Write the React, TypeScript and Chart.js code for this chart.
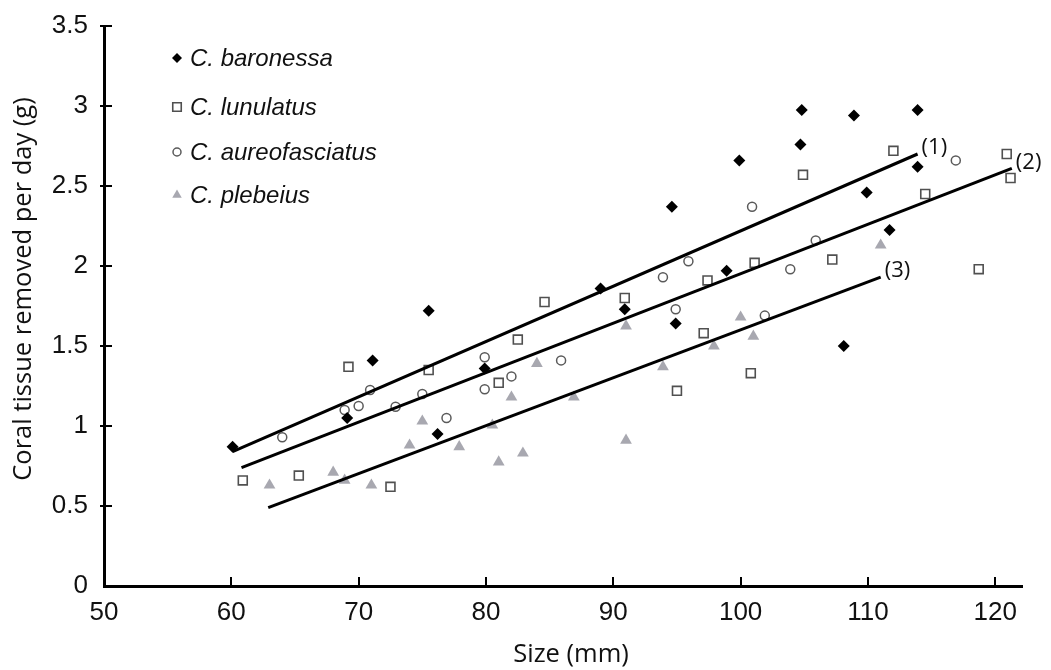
import React, { useEffect, useRef } from 'react';
import { Chart, registerables } from 'chart.js';

Chart.register(...registerables);

// ---- data ----
const baronessaX = [60.1, 69.1, 71.1, 75.5, 76.2, 79.9, 89.0, 90.9, 94.6, 94.9, 98.9, 99.9, 104.7, 104.8, 108.1, 108.9, 109.9, 111.7, 113.9, 113.9];
const baronessaY = [0.87, 1.05, 1.41, 1.72, 0.95, 1.36, 1.86, 1.73, 2.37, 1.64, 1.97, 2.66, 2.76, 2.975, 1.5, 2.94, 2.46, 2.225, 2.975, 2.62];

const lunulatusX = [60.9, 65.3, 69.2, 72.5, 75.5, 81.0, 82.5, 84.6, 90.9, 95.0, 97.1, 97.4, 100.8, 101.1, 104.9, 107.2, 112.0, 114.5, 118.7, 120.9, 121.2];
const lunulatusY = [0.66, 0.69, 1.37, 0.62, 1.35, 1.27, 1.54, 1.775, 1.8, 1.22, 1.58, 1.91, 1.33, 2.02, 2.57, 2.04, 2.72, 2.45, 1.98, 2.7, 2.55];

const aureoX = [64.0, 68.9, 70.0, 70.9, 72.9, 75.0, 76.9, 79.9, 79.9, 82.0, 85.9, 93.9, 94.9, 95.9, 100.9, 101.9, 103.9, 105.9, 116.9];
const aureoY = [0.93, 1.1, 1.125, 1.225, 1.12, 1.2, 1.05, 1.43, 1.23, 1.31, 1.41, 1.93, 1.73, 2.03, 2.37, 1.69, 1.98, 2.16, 2.66];

const plebeiusX = [63.0, 68.0, 68.9, 71.0, 74.0, 75.0, 77.9, 80.5, 81.0, 82.0, 82.9, 84.0, 86.9, 91.0, 91.0, 93.9, 97.9, 100.0, 101.0, 111.0];
const plebeiusY = [0.63, 0.71, 0.66, 0.63, 0.88, 1.03, 0.87, 1.005, 0.775, 1.18, 0.83, 1.39, 1.18, 1.625, 0.91, 1.37, 1.5, 1.68, 1.56, 2.13];

const line1X = [60.1, 113.9];
const line1Y = [0.84, 2.7];
const line2X = [60.8, 121.3];
const line2Y = [0.74, 2.61];
const line3X = [62.9, 111.0];
const line3Y = [0.49, 1.93];
const lineLabels = ['(1)', '(2)', '(3)'];

const speciesNames = ['C. baronessa', 'C. lunulatus', 'C. aureofasciatus', 'C. plebeius'];

const xTickValues = [50, 60, 70, 80, 90, 100, 110, 120];
const yTickValues = [0, 0.5, 1, 1.5, 2, 2.5, 3, 3.5];
const yTickLabels = ['0', '0.5', '1', '1.5', '2', '2.5', '3', '3.5'];

const xTitle = 'Size (mm)';
const yTitle = 'Coral tissue removed per day (g)';

// ---- styles ----
const W = 1051;
const H = 670;
const FONT_TICK = '"Liberation Sans", Arial, sans-serif';
const FONT_TITLE = '"Open Sans", "Noto Sans", sans-serif';
const SQUARE_COLOR = '#505050';
const CIRCLE_COLOR = '#5a5a5a';
const TRI_COLOR = '#a8a8b0';

const pts = (xs: number[], ys: number[]) => xs.map((x, i) => ({ x, y: ys[i] }));

function drawMarker(ctx: CanvasRenderingContext2D, kind: number, x: number, y: number, s: number) {
  ctx.save();
  ctx.beginPath();
  if (kind === 0) {
    ctx.moveTo(x - s, y);
    ctx.lineTo(x, y - s);
    ctx.lineTo(x + s, y);
    ctx.lineTo(x, y + s);
    ctx.closePath();
    ctx.fillStyle = '#000';
    ctx.fill();
  } else if (kind === 1) {
    ctx.rect(x - s * 0.85, y - s * 0.85, s * 1.7, s * 1.7);
    ctx.strokeStyle = SQUARE_COLOR;
    ctx.lineWidth = 1.6;
    ctx.stroke();
  } else if (kind === 2) {
    ctx.arc(x, y, s * 0.8, 0, Math.PI * 2);
    ctx.strokeStyle = CIRCLE_COLOR;
    ctx.lineWidth = 1.5;
    ctx.stroke();
  } else {
    const r = s * 1.1;
    ctx.moveTo(x, y - r);
    ctx.lineTo(x + r * 0.866, y + r * 0.5);
    ctx.lineTo(x - r * 0.866, y + r * 0.5);
    ctx.closePath();
    ctx.fillStyle = TRI_COLOR;
    ctx.fill();
  }
  ctx.restore();
}

export default function App() {
  const ref = useRef<HTMLCanvasElement>(null);

  useEffect(() => {
    const canvas = ref.current;
    if (!canvas) return;

    const fits = [
      { xs: line1X, ys: line1Y, label: lineLabels[0] },
      { xs: line2X, ys: line2Y, label: lineLabels[1] },
      { xs: line3X, ys: line3Y, label: lineLabels[2] },
    ];

    const annot = {
      id: 'annot',
      afterDraw(chart: any) {
        const { ctx, chartArea } = chart;
        const xs = chart.scales.x;
        const ys = chart.scales.y;
        ctx.save();
        // inward tick marks
        ctx.strokeStyle = '#000';
        ctx.lineWidth = 2;
        yTickValues.forEach((v) => {
          if (v === 0) return;
          const py = Math.round(ys.getPixelForValue(v));
          ctx.beginPath();
          ctx.moveTo(chartArea.left - 4, py);
          ctx.lineTo(chartArea.left + 8, py);
          ctx.stroke();
        });
        xTickValues.forEach((v) => {
          if (v === 50) return;
          const px = Math.round(xs.getPixelForValue(v));
          ctx.beginPath();
          ctx.moveTo(px, chartArea.bottom);
          ctx.lineTo(px, chartArea.bottom - 9);
          ctx.stroke();
        });

        // regression line labels
        ctx.fillStyle = '#111';
        ctx.font = `22px ${FONT_TITLE}`;
        ctx.textAlign = 'left';
        ctx.textBaseline = 'middle';
        fits.forEach((f) => {
          const n = f.xs.length - 1;
          const px = xs.getPixelForValue(f.xs[n]);
          const py = ys.getPixelForValue(f.ys[n]);
          ctx.fillText(f.label, px + 4, py - 6);
        });

        // legend
        const legX = chartArea.left + 73;
        const legRows = [32, 81, 126, 169];
        ctx.font = `italic 24px ${FONT_TICK}`;
        speciesNames.forEach((name, i) => {
          const cy = chartArea.top + legRows[i];
          drawMarker(ctx, i, legX, cy, 5);
          ctx.fillStyle = '#111';
          ctx.fillText(name, legX + 13, cy + 1);
        });

        // axis titles
        ctx.fillStyle = '#111';
        ctx.font = `25.5px ${FONT_TITLE}`;
        ctx.textAlign = 'center';
        ctx.textBaseline = 'middle';
        ctx.fillText(xTitle, 571, 655);
        ctx.translate(24, 289);
        ctx.rotate(-Math.PI / 2);
        ctx.fillText(yTitle, 0, 0);
        ctx.restore();
      },
    };

    const chart = new Chart(canvas, {
      type: 'scatter',
      data: {
        datasets: [
          {
            type: 'line',
            label: 'fit1',
            data: pts(line1X, line1Y),
            borderColor: '#000',
            borderWidth: 3,
            pointRadius: 0,
            showLine: true,
            fill: false,
            order: 0,
          },
          {
            type: 'line',
            label: 'fit2',
            data: pts(line2X, line2Y),
            borderColor: '#000',
            borderWidth: 3,
            pointRadius: 0,
            showLine: true,
            fill: false,
            order: 0,
          },
          {
            type: 'line',
            label: 'fit3',
            data: pts(line3X, line3Y),
            borderColor: '#000',
            borderWidth: 3,
            pointRadius: 0,
            showLine: true,
            fill: false,
            order: 0,
          },
          {
            label: speciesNames[0],
            data: pts(baronessaX, baronessaY),
            pointStyle: 'rectRot',
            pointRadius: 6,
            backgroundColor: '#000',
            borderColor: '#000',
            borderWidth: 0,
            order: 1,
          },
          {
            label: speciesNames[1],
            data: pts(lunulatusX, lunulatusY),
            pointStyle: 'rect',
            pointRadius: 6.3,
            backgroundColor: 'rgba(255,255,255,0)',
            borderColor: SQUARE_COLOR,
            borderWidth: 1.6,
            order: 1,
          },
          {
            label: speciesNames[2],
            data: pts(aureoX, aureoY),
            pointStyle: 'circle',
            pointRadius: 4.5,
            backgroundColor: 'rgba(255,255,255,0)',
            borderColor: CIRCLE_COLOR,
            borderWidth: 1.5,
            order: 1,
          },
          {
            label: speciesNames[3],
            data: pts(plebeiusX, plebeiusY),
            pointStyle: 'triangle',
            pointRadius: 6.8,
            backgroundColor: TRI_COLOR,
            borderColor: TRI_COLOR,
            borderWidth: 0,
            order: 1,
          },
        ],
      },
      options: {
        responsive: false,
        animation: false,
        events: [],
        devicePixelRatio: 1,
        layout: { padding: { top: 26, right: 29, left: 0, bottom: 0 } },
        plugins: {
          legend: { display: false },
          tooltip: { enabled: false },
        },
        scales: {
          x: {
            type: 'linear',
            min: 50,
            max: 122.1,
            afterBuildTicks: (scale: any) => {
              scale.ticks = xTickValues.map((v) => ({ value: v }));
            },
            afterFit: (scale: any) => {
              scale.height = 84;
              scale.paddingLeft = 0;
              scale.paddingRight = 0;
            },
            grid: { display: true, drawOnChartArea: false, drawTicks: false },
            border: { display: true, color: '#000', width: 3 },
            ticks: {
              padding: 11,
              color: '#111',
              font: { family: FONT_TICK, size: 26 },
              callback: (v: any) => String(v),
            },
          },
          y: {
            type: 'linear',
            min: 0,
            max: 3.5,
            afterBuildTicks: (scale: any) => {
              scale.ticks = yTickValues.map((v) => ({ value: v }));
            },
            afterFit: (scale: any) => {
              scale.width = 104;
              scale.paddingTop = 0;
              scale.paddingBottom = 0;
            },
            grid: { display: true, drawOnChartArea: false, drawTicks: false },
            border: { display: true, color: '#000', width: 3 },
            ticks: {
              padding: 16,
              color: '#111',
              font: { family: FONT_TICK, size: 26 },
              callback: (v: any) => {
                const i = yTickValues.indexOf(Number(v));
                return i >= 0 ? yTickLabels[i] : '';
              },
            },
          },
        },
      },
      plugins: [annot],
    } as any);

    return () => chart.destroy();
  }, []);

  return (
    <div style={{ position: 'fixed', left: 0, top: 0, width: W, height: H, background: '#fff' }}>
      <canvas ref={ref} width={W} height={H} style={{ display: 'block', width: W, height: H }} />
    </div>
  );
}
